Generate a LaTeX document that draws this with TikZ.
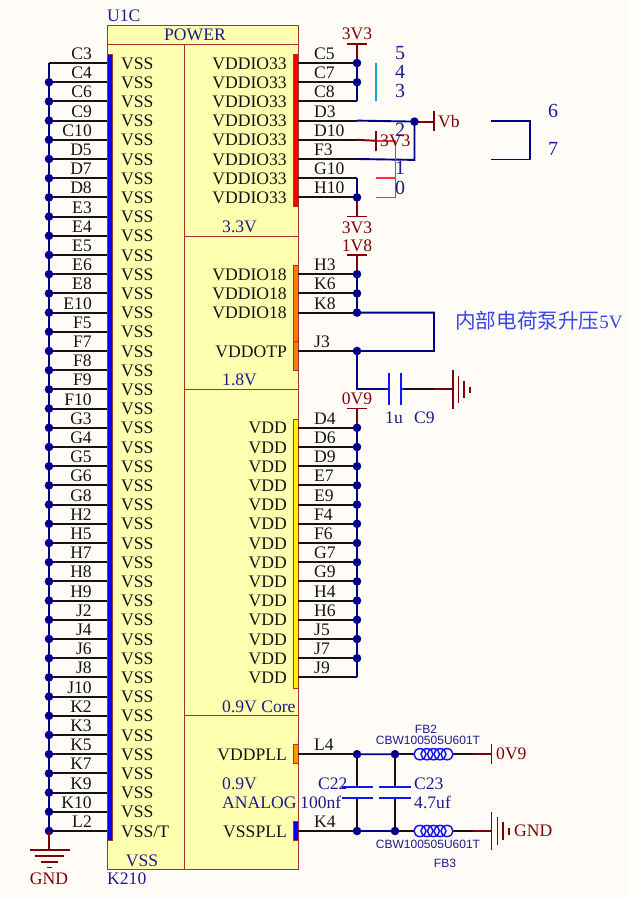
\documentclass[tikz,border=0pt]{standalone}
\usepackage{fontspec}
\setmainfont{Liberation Serif}
\newfontfamily\cjkf{Noto Sans CJK SC}
\newfontfamily\sanf{Liberation Sans}
\definecolor{paper}{HTML}{FFFCF8}
\definecolor{body}{HTML}{FFFFB0}
\definecolor{frame}{HTML}{A83232}
\definecolor{net}{HTML}{00008B}
\definecolor{port}{HTML}{800000}
\definecolor{lab}{HTML}{1C1C8C}
\definecolor{ink}{HTML}{141414}
\definecolor{cnblue}{HTML}{3A46E8}
\definecolor{part}{HTML}{1515F0}
\definecolor{pinkred}{HTML}{FF2846}
\definecolor{cyanb}{HTML}{10A8D8}
\tikzset{
  txt/.style={inner sep=0pt,font=\fontsize{17.6}{17.6}\selectfont},
  digit/.style={inner sep=0pt,text=lab,font=\fontsize{20}{20}\selectfont},
  pinname/.style={txt,text=ink,anchor=base west},
  pinnameR/.style={txt,text=ink,anchor=base east},
  bluetxt/.style={txt,text=lab,anchor=base west},
  portxt/.style={txt,text=port,anchor=base},
  smalltxt/.style={inner sep=0pt,text=lab,anchor=base,font=\sanf\fontsize{12}{12}\selectfont},
  leadwire/.style={ink,line width=1.9pt},
  netwire/.style={net,line width=1.9pt},
  portwire/.style={port,line width=1.9pt},
  plate/.style={part,line width=1.9pt},
  bar/.style={draw=frame,line width=.8pt}
}
\newcommand{\jdot}[1]{\fill[net] (#1) circle (4.3);}
\begin{document}
\begin{tikzpicture}[x=1pt,y=-1pt]
\useasboundingbox (0,0) rectangle (630,898);
\fill[paper] (0,0) rectangle (630,898);
% body
\draw[draw=frame,fill=body,line width=1pt] (107,25) rectangle (298,869);
\draw[frame,line width=1pt] (107,44) -- (298,44) (184,44) -- (184,869)
  (184,236) -- (298,236) (184,389) -- (298,389) (184,715) -- (298,715);
% pin bars
\filldraw[bar,fill=blue] (107.5,54) rectangle (112,840);
\filldraw[bar,fill=red] (293.5,54) rectangle (298,206);
\filldraw[bar,fill=orange!95!red] (293.5,265) rectangle (298,341);
\filldraw[bar,fill=orange!75!brown] (293.5,341) rectangle (298,370);
\filldraw[bar,fill=yellow] (293.5,419) rectangle (298,688);
\filldraw[bar,fill=orange!80!yellow] (293.5,744) rectangle (298,763);
\filldraw[bar,fill=blue] (293.5,821) rectangle (298,840);
% section labels
\node[bluetxt,anchor=base] (tpower) at (195,40) {POWER};
\node[bluetxt] (tu) at (107,21) {U1C};
\node[bluetxt] (tk) at (107,884.5) {K210};
\node[bluetxt,anchor=base] (tvss) at (142,866) {VSS};
\node[bluetxt] (t33) at (222,232.5) {3.3V};
\node[bluetxt] (t18) at (222,385.5) {1.8V};
\node[bluetxt] (t09) at (222,712.5) {0.9V Core};
\node[bluetxt] (t09a) at (222,789) {0.9V};
\node[bluetxt] (tan) at (222,808) {ANALOG};
% left pins
\foreach \n [count=\i from 0] in {C3,C4,C6,C9,C10,D5,D7,D8,E3,E4,E5,E6,E8,E10,F5,F7,F8,F9,F10,G3,G4,G5,G6,G8,H2,H5,H7,H8,H9,J2,J4,J6,J8,J10,K2,K3,K5,K7,K9,K10,L2}{
  \pgfmathsetmacro\yy{63+19.2*\i}
  \coordinate (lb\n) at (107,\yy);
  \coordinate (lj\n) at (49,\yy);
  \draw[leadwire] (lb\n) -- (lj\n);
  \node[pinnameR] (ln\n) at (92,\yy-3.5) {\n};
  \ifnum\i=40
    \node[pinname] (lv\n) at (121,\yy+6) {VSS/T};
  \else
    \node[pinname] (lv\n) at (121,\yy+6) {VSS};
  \fi
}
\draw[netwire] (ljC3) -- (ljL2);
\foreach \n in {C4,C6,C9,C10,D5,D7,D8,E3,E4,E5,E6,E8,E10,F5,F7,F8,F9,F10,G3,G4,G5,G6,G8,H2,H5,H7,H8,H9,J2,J4,J6,J8,J10,K2,K3,K5,K7,K9,K10,L2}{\jdot{lj\n}}
% left GND
\coordinate (gl) at (49,850);
\draw[portwire] (ljL2) -- (gl);
\draw[portwire] (29.5,850) -- (69.5,850) (35,856) -- (63.5,856) (41,862) -- (58,862) (46.5,867.5) -- (52,867.5);
\node[portxt] (tgl) at (49,884.5) {GND};
% right pins
\foreach \n/\lb/\i in {C5/VDDIO33/0,C7/VDDIO33/1,C8/VDDIO33/2,D3/VDDIO33/3,D10/VDDIO33/4,F3/VDDIO33/5,G10/VDDIO33/6,H10/VDDIO33/7,
  H3/VDDIO18/11,K6/VDDIO18/12,K8/VDDIO18/13,J3/VDDOTP/15,
  D4/VDD/19,D6/VDD/20,D9/VDD/21,E7/VDD/22,E9/VDD/23,F4/VDD/24,F6/VDD/25,G7/VDD/26,G9/VDD/27,H4/VDD/28,H6/VDD/29,J5/VDD/30,J7/VDD/31,J9/VDD/32,
  L4/VDDPLL/36,K4/VSSPLL/40}{
  \pgfmathsetmacro\yy{63+19.2*\i}
  \coordinate (rb\n) at (298,\yy);
  \coordinate (rj\n) at (357,\yy);
  \draw[leadwire] (rb\n) -- (rj\n);
  \node[pinname] (rn\n) at (314,\yy-3.5) {\n};
  \node[pinnameR] (rl\n) at (287,\yy+6) {\lb};
}
% 3V3 group
\coordinate (p1) at (357,44);
\draw[portwire] (p1) -- (rjC5);
\draw[portwire] (347,44) -- (367,44);
\node[portxt] (tp1) at (357,39) {3V3};
\draw[netwire] (rjC5) -- (rjC8);
\jdot{rjC5}\jdot{rjC7}
\node[digit] (n5) at (400,53) {5};
\node[digit] (n4) at (400,72) {4};
\node[digit] (n3) at (400,91) {3};
\draw[cyanb,line width=1.8pt] (376,63) -- (376,101);
% Vb
\coordinate (vbj) at (414.5,121.6);
\coordinate (vbp) at (434,121.6);
\coordinate (vbc) at (414.5,159.9);
\draw[netwire] (rjD3) -- (vbj) -- (vbc) -- (rjF3);
\draw[portwire] (vbj) -- (vbp);
\draw[portwire] (434,111) -- (434,131);
\jdot{vbj}
\node[txt,text=port,anchor=base west] (tvb) at (438,127) {Vb};
% D10 port
\coordinate (d10p) at (376,140.8);
\draw[pinkred,line width=1.6pt] (d10p) -- (395.5,140.8) -- (395.5,197.4) -- (376,197.4) (395.5,178.2) -- (376,178.2);
\draw[portwire] (rjD10) -- (d10p);
\draw[portwire] (376,130.5) -- (376,150.5);
\node[digit] (n2) at (400,130) {2};
\node[txt,text=port,anchor=base west] (t3v) at (380,146) {3V3};
\node[digit] (n1) at (400,168) {1};
\node[digit] (n0) at (400,188) {0};
% G10/H10
\draw[netwire] (rjG10) -- (rjH10);
\coordinate (p2) at (357,216.5);
\draw[portwire] (rjH10) -- (p2);
\draw[portwire] (347,216.5) -- (367,216.5);
\jdot{rjH10}
\node[portxt] (tp2) at (357,233) {3V3};
% bracket 6 7
\coordinate (ba) at (491,121);
\coordinate (bb) at (530,121);
\coordinate (bc) at (530,159.5);
\coordinate (bd) at (491,159.5);
\draw[netwire] (ba) -- (bb) -- (bc) -- (bd);
\node[digit] (n6) at (553,111) {6};
\node[digit] (n7) at (553,149) {7};
% 1V8 group
\coordinate (p3) at (357,255);
\draw[portwire] (p3) -- (rjH3);
\draw[portwire] (347,255) -- (367,255);
\node[portxt] (tp3) at (357,251.5) {1V8};
\coordinate (ka) at (434,312.6);
\coordinate (kb) at (434,351);
\coordinate (c9a) at (357,389);
\coordinate (c9b) at (389,389);
\coordinate (c9c) at (401,389);
\coordinate (c9d) at (434,389);
\coordinate (c9e) at (453,389);
\draw[netwire] (rjH3) -- (rjK8) -- (ka) -- (kb) -- (rjJ3) -- (c9a) -- (c9b);
\draw[leadwire] (c9c) -- (c9d);
\draw[portwire] (c9d) -- (c9e);
\draw[plate] (c9b)+(0,-16) -- +(0,16);
\draw[plate] (c9c)+(0,-16) -- +(0,16);
\draw[plate] (385,389) -- (389,389) (401,389) -- (405,389);
\draw[portwire] (453,369.5) -- (453,409) (458.5,376) -- (458.5,403) (464,381) -- (464,398) (470,387) -- (470,392.5);
\jdot{rjH3}\jdot{rjK6}\jdot{rjK8}\jdot{rjJ3}
\node[bluetxt] (t1u) at (385,423.5) {1u};
\node[bluetxt] (tc9) at (414,423.5) {C9};
\node[inner sep=0pt,anchor=base west,text=cnblue] (tcn) at (455,328) {{\cjkf\fontsize{20.6}{20.6}\selectfont 内部电荷泵升压}\fontsize{19}{19}\selectfont 5V};
% 0V9 group
\coordinate (p4) at (357,408.5);
\draw[portwire] (p4) -- (rjD4);
\draw[portwire] (347,408.5) -- (367,408.5);
\node[portxt] (tp4) at (357,404.5) {0V9};
\draw[netwire] (rjD4) -- (rjJ9);
\foreach \n in {D4,D6,D9,E7,E9,F4,F6,G7,G9,H4,H6,J5,J7}{\jdot{rj\n}}
% PLL
\coordinate (ja) at (395,754.2);
\coordinate (jb) at (395,831);
\coordinate (la) at (414.5,754.2);
\coordinate (lb) at (453,754.2);
\coordinate (lc) at (473,754.2);
\coordinate (ld) at (491.5,754.2);
\coordinate (ma) at (414.5,831);
\coordinate (mb) at (453,831);
\coordinate (mc) at (473,831);
\coordinate (md) at (491.5,831);
\coordinate (a1) at (357,787);
\coordinate (a2) at (357,798);
\coordinate (b1) at (395,787);
\coordinate (b2) at (395,798);
\draw[netwire] (rjL4) -- (ja) (rjK4) -- (jb);
\draw[leadwire] (ja) -- (la) (lb) -- (lc) (jb) -- (ma) (mb) -- (mc);
\draw[leadwire] (rjL4) -- (a1) (a2) -- (rjK4) (ja) -- (b1) (b2) -- (jb);
\draw[portwire] (lc) -- (ld) (mc) -- (md);
\draw[portwire] (491.5,744) -- (491.5,764);
\draw[portwire] (491.5,812) -- (491.5,850) (497.5,817) -- (497.5,845) (503,822) -- (503,840) (509,828) -- (509,835);
\draw[plate] (342,787) -- (373,787) (342,798) -- (373,798) (379,787) -- (411,787) (379,798) -- (411,798);
\foreach \yy in {754.2,831}{
  \foreach \xx in {420,427,433.5,440,447}{
    \draw[part,line width=1.5pt] (\xx,\yy) ellipse (6 and 5.6);
  }
}
\jdot{rjL4}\jdot{ja}\jdot{rjK4}\jdot{jb}
\node[bluetxt] (tc22) at (318,789) {C22};
\node[bluetxt] (tnf) at (300,808) {100nf};
\node[bluetxt] (tc23) at (414,789) {C23};
\node[bluetxt] (tuf) at (414,808) {4.7uf};
\node[smalltxt] (tfb2) at (426,733) {FB2};
\node[smalltxt] (tcb2) at (428,744.5) {CBW100505U601T};
\node[smalltxt] (tcb3) at (428,848.5) {CBW100505U601T};
\node[smalltxt] (tfb3) at (445,867.5) {FB3};
\node[txt,text=port,anchor=base west] (tv9) at (496,759.5) {0V9};
\node[txt,text=port,anchor=base west] (tgnd) at (514,836.5) {GND};
\end{tikzpicture}
\end{document}
